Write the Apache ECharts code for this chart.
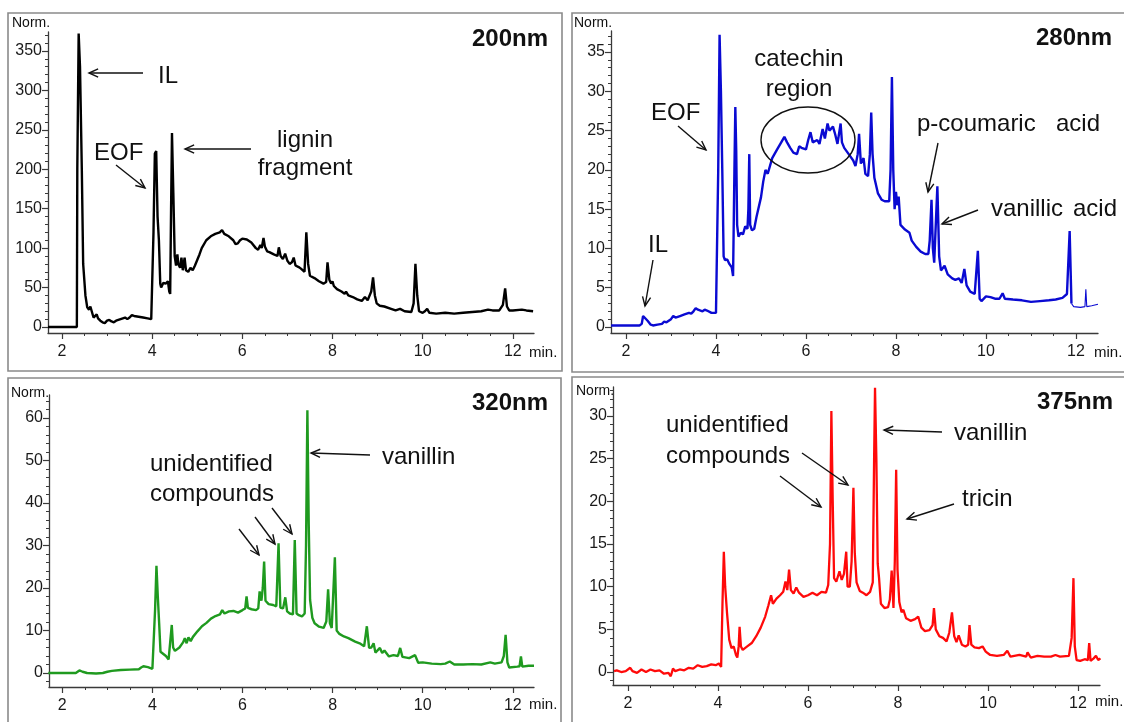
<!DOCTYPE html>
<html><head><meta charset="utf-8">
<script src="https://cdn.jsdelivr.net/npm/echarts@6/dist/echarts.min.js"></script>
<style>html,body{margin:0;padding:0;background:#fff}#c{width:1124px;height:722px}</style>
</head><body><div id="c"></div>
<script>
// ---- data: [time (min), absorbance (Norm.)] ----
const T200 = [[1.69,0],[2.33,0],[2.34,200],[2.37,372],[2.40,330],[2.44,200],[2.47,80],[2.52,40],[2.56,25],[2.6,22],[2.63,26],[2.66,20],[2.7,12],[2.74,10],[2.77,16],[2.8,11],[2.85,8],[2.9,6],[2.95,5],[3.0,8],[3.05,9],[3.1,7],[3.15,6],[3.2,8],[3.3,10],[3.4,12],[3.45,10],[3.5,12],[3.55,15],[3.6,14],[3.7,13],[3.8,12],[3.9,11],[3.98,10],[4.01,11],[4.03,120],[4.06,220],[4.09,223],[4.12,140],[4.15,110],[4.18,55],[4.2,50],[4.25,56],[4.3,55],[4.35,58],[4.38,45],[4.4,42],[4.42,150],[4.44,246],[4.47,170],[4.5,90],[4.53,78],[4.56,92],[4.58,80],[4.62,75],[4.65,88],[4.68,72],[4.72,88],[4.75,72],[4.8,70],[4.85,75],[4.9,72],[4.95,78],[5.0,85],[5.05,92],[5.1,100],[5.2,110],[5.3,115],[5.4,118],[5.5,120],[5.55,123],[5.6,118],[5.7,115],[5.8,110],[5.85,105],[5.9,106],[5.95,110],[6.0,112],[6.1,111],[6.2,107],[6.3,100],[6.35,98],[6.4,104],[6.43,100],[6.47,113],[6.5,102],[6.55,96],[6.6,95],[6.7,92],[6.78,90],[6.81,101],[6.85,90],[6.9,86],[6.95,93],[7.0,84],[7.05,80],[7.1,82],[7.14,88],[7.18,78],[7.25,76],[7.3,74],[7.38,70],[7.42,120],[7.46,80],[7.5,65],[7.6,62],[7.7,58],[7.8,55],[7.86,57],[7.89,82],[7.93,60],[7.97,55],[8.0,58],[8.03,52],[8.1,48],[8.2,45],[8.27,42],[8.3,45],[8.35,40],[8.45,38],[8.55,35],[8.65,33],[8.72,38],[8.78,34],[8.82,33],[8.86,45],[8.9,63],[8.94,40],[8.98,30],[9.05,27],[9.15,26],[9.3,23],[9.4,21],[9.5,23],[9.6,20],[9.75,19],[9.8,30],[9.84,80],[9.88,40],[9.92,20],[10.0,18],[10.05,20],[10.1,23],[10.15,18],[10.3,17],[10.5,18],[10.7,17],[10.9,18],[11.1,19],[11.3,20],[11.45,22],[11.55,21],[11.7,21],[11.78,28],[11.83,49],[11.87,26],[11.92,21],[12.0,21],[12.2,22],[12.3,21],[12.45,20]];

const T280 = [[1.67,0.2],[2.0,0.2],[2.3,0.2],[2.35,0.4],[2.38,1.4],[2.42,1.2],[2.48,0.8],[2.55,0.3],[2.6,0.2],[2.7,0.3],[2.8,0.4],[2.85,0.7],[2.9,0.6],[3.0,1.0],[3.05,1.4],[3.1,1.2],[3.2,1.4],[3.3,1.6],[3.4,1.8],[3.45,1.7],[3.5,2.0],[3.55,2.4],[3.6,2.2],[3.7,2.0],[3.75,2.2],[3.8,2.1],[3.9,1.8],[4.0,1.8],[4.03,2.0],[4.05,20],[4.08,37.2],[4.11,30],[4.14,20],[4.17,9],[4.2,8.5],[4.25,8.6],[4.3,8.0],[4.35,7.6],[4.38,6.5],[4.41,20],[4.43,28],[4.45,22.5],[4.47,13],[4.5,11.5],[4.55,12],[4.6,11.8],[4.65,12.8],[4.7,12.5],[4.72,15],[4.74,22],[4.76,13],[4.8,12.3],[4.85,12.5],[4.9,14],[5.0,16.5],[5.05,18.5],[5.1,20],[5.15,19.5],[5.25,21.5],[5.35,22.5],[5.45,23.5],[5.52,24.2],[5.58,23.5],[5.65,22.8],[5.72,22.2],[5.8,22],[5.85,23],[5.9,22.8],[6.0,22.6],[6.05,23.8],[6.1,24.8],[6.15,23.5],[6.25,23.8],[6.3,23.3],[6.37,25.2],[6.42,24],[6.48,25.9],[6.52,25],[6.6,25.5],[6.65,24.5],[6.7,23.3],[6.77,25.9],[6.8,23.5],[6.85,22.8],[6.95,22],[7.05,21.2],[7.1,20.5],[7.15,22],[7.18,24.6],[7.22,20.8],[7.28,21.5],[7.32,19.5],[7.38,19.2],[7.42,22],[7.45,27.3],[7.48,22],[7.52,19],[7.6,17],[7.68,16.2],[7.75,16],[7.85,16],[7.88,20],[7.91,31.8],[7.94,20],[7.97,15],[8.0,17.2],[8.03,15.5],[8.06,16.6],[8.1,13],[8.2,12.4],[8.3,12],[8.35,11],[8.45,10.2],[8.55,9.6],[8.65,9.3],[8.72,9.3],[8.75,11],[8.79,16.2],[8.82,10],[8.85,8.2],[8.88,8.3],[8.92,17.9],[8.96,9],[9.0,7.2],[9.08,7.8],[9.15,6.7],[9.25,6.2],[9.32,6.0],[9.4,6.2],[9.46,5.6],[9.52,7.4],[9.57,5.3],[9.65,4.5],[9.75,4.2],[9.79,4.4],[9.82,9.7],[9.86,3.6],[9.9,3.3],[10.0,3.9],[10.1,3.8],[10.2,3.6],[10.3,3.6],[10.37,4.3],[10.42,3.6],[10.6,3.5],[10.8,3.4],[11.0,3.2],[11.2,3.3],[11.4,3.4],[11.55,3.5],[11.7,3.7],[11.8,4.2],[11.86,12.2],[11.9,3.0]];
// thin tail of the 280 nm trace (drawn with a finer line in the original)
const T280_TAIL = [[11.9,3.0],[11.95,2.6],[12.1,2.5],[12.2,2.6],[12.22,4.8],[12.24,2.6],[12.35,2.7],[12.49,2.9]];

const T320 = [[1.69,0],[2.0,0],[2.3,0],[2.38,0.6],[2.45,0.3],[2.55,0],[2.75,-0.1],[2.9,0],[3.0,0.3],[3.1,0.5],[3.3,0.7],[3.5,0.8],[3.7,0.9],[3.75,1.3],[3.8,1.6],[3.9,1.4],[4.0,1.0],[4.03,1.1],[4.06,15],[4.09,25.2],[4.12,18],[4.15,11.7],[4.18,5],[4.22,4.6],[4.3,4.0],[4.36,3.2],[4.4,3.1],[4.43,11.3],[4.46,6],[4.5,5.2],[4.6,6],[4.68,7.2],[4.72,8.2],[4.76,7],[4.8,8.4],[4.85,7.5],[4.9,8.5],[5.0,9.8],[5.1,11],[5.2,11.8],[5.3,12.8],[5.4,13.4],[5.5,13.8],[5.55,14.8],[5.6,14],[5.7,14.5],[5.8,14.6],[5.9,14.2],[6.0,14.8],[6.06,15.2],[6.09,18],[6.12,15.3],[6.2,15],[6.3,14.8],[6.35,15.2],[6.38,19.2],[6.42,17],[6.45,20],[6.48,26.2],[6.51,17],[6.58,16.2],[6.68,16],[6.75,15.7],[6.8,30.5],[6.84,15.4],[6.9,15.2],[6.95,17.8],[6.99,14.5],[7.05,14],[7.12,13.8],[7.16,31.3],[7.2,14],[7.25,13.6],[7.32,13.3],[7.38,14],[7.41,30],[7.44,61.8],[7.47,35],[7.5,17.2],[7.55,13],[7.6,11.7],[7.7,10.9],[7.8,10.6],[7.86,12.1],[7.9,19.7],[7.94,11.7],[7.98,10.6],[8.05,27.2],[8.09,10],[8.15,9.2],[8.25,8.6],[8.35,8.2],[8.5,7.4],[8.6,7],[8.7,6.3],[8.76,11],[8.81,5.9],[8.86,6],[8.91,7.0],[8.95,4.8],[9.05,5.9],[9.1,4.7],[9.15,5.3],[9.25,3.9],[9.35,4.2],[9.45,4.0],[9.5,5.9],[9.55,3.8],[9.7,3.5],[9.83,4.2],[9.9,2.4],[10.0,2.5],[10.2,2.2],[10.4,2.1],[10.5,2.2],[10.6,2.7],[10.7,2.0],[10.9,2.0],[11.1,2.1],[11.3,2.0],[11.5,2.5],[11.6,2.2],[11.75,2.5],[11.8,4],[11.84,9.0],[11.88,2.5],[11.92,1.3],[12.1,1.5],[12.15,1.6],[12.18,3.9],[12.21,1.5],[12.35,1.7],[12.47,1.7]];

const T375 = [[1.69,0.1],[1.75,0.2],[1.85,0],[1.95,0.1],[2.05,0.5],[2.1,0.1],[2.2,-0.1],[2.3,0.3],[2.4,0],[2.5,0.3],[2.6,0.1],[2.7,0.2],[2.8,-0.2],[2.9,-0.1],[2.95,-0.5],[3.0,0.4],[3.05,0.1],[3.15,0.3],[3.25,0.2],[3.35,0.5],[3.45,0.4],[3.55,0.8],[3.65,0.6],[3.75,0.7],[3.85,0.9],[3.95,0.8],[4.02,1.0],[4.07,0.6],[4.1,8],[4.13,14.1],[4.16,10],[4.2,7],[4.25,3.8],[4.3,2.8],[4.35,3.0],[4.4,2.0],[4.43,1.7],[4.46,3],[4.48,5.3],[4.51,3],[4.55,2.6],[4.65,3.0],[4.75,3.4],[4.85,4.2],[4.95,5.2],[5.05,6.5],[5.12,7.8],[5.18,9],[5.22,8],[5.3,8.6],[5.38,9],[5.45,9.4],[5.5,10.6],[5.54,9.6],[5.58,12],[5.62,9.6],[5.68,9.2],[5.74,9.9],[5.8,9.3],[5.9,8.8],[6.0,9.0],[6.1,9.3],[6.2,9.0],[6.3,9.4],[6.4,9.3],[6.45,10.2],[6.49,15],[6.52,30.6],[6.55,20],[6.58,11],[6.63,10.6],[6.7,11.8],[6.75,10.8],[6.8,11.5],[6.85,14.1],[6.88,10],[6.93,10],[6.97,13],[7.01,21.6],[7.04,14],[7.08,10.5],[7.15,9.5],[7.22,9.3],[7.3,9.0],[7.38,9.4],[7.44,10.5],[7.47,25],[7.49,33.3],[7.52,25],[7.55,12.7],[7.58,11],[7.62,8],[7.7,7.5],[7.78,7.6],[7.82,8.5],[7.86,11.9],[7.9,7.5],[7.93,13],[7.96,23.7],[7.99,12],[8.03,8.2],[8.08,7],[8.12,7.3],[8.18,6.3],[8.28,6],[8.38,6.2],[8.45,6.5],[8.52,5.2],[8.6,4.8],[8.7,4.9],[8.77,5.5],[8.8,7.5],[8.84,5.0],[8.92,4.2],[9.0,4.0],[9.08,3.6],[9.14,4.6],[9.2,7.0],[9.25,4.2],[9.3,3.5],[9.35,4.3],[9.42,3.2],[9.5,3.0],[9.56,3.2],[9.59,5.5],[9.63,3.2],[9.7,2.9],[9.8,2.8],[9.88,3.0],[9.95,2.4],[10.05,2.0],[10.2,1.9],[10.35,2.0],[10.43,2.5],[10.5,1.8],[10.7,2.0],[10.85,1.8],[10.88,2.3],[10.95,1.7],[11.1,1.9],[11.25,1.8],[11.4,1.8],[11.5,2.0],[11.6,1.8],[11.8,1.9],[11.86,4],[11.9,11.0],[11.93,3],[11.97,1.4],[12.05,1.3],[12.15,1.5],[12.22,1.4],[12.25,3.4],[12.28,1.3],[12.35,1.6],[12.4,1.9],[12.45,1.4],[12.5,1.6]];

// ---- tick labels ----
const X_TICKS = [2,4,6,8,10,12];
const X_MINOR = [2,2.5,3,3.5,4,4.5,5,5.5,6,6.5,7,7.5,8,8.5,9,9.5,10,10.5,11,11.5,12];
const Y200_TICKS = [0,50,100,150,200,250,300,350];
const Y280_TICKS = [0,5,10,15,20,25,30,35];
const Y320_TICKS = [0,10,20,30,40,50,60];
const Y375_TICKS = [0,5,10,15,20,25,30];

function range(a, b, s) { const r = []; for (let v = a; v <= b + 1e-9; v += s) r.push(+v.toFixed(3)); return r; }

const FONT = '"Liberation Sans", Arial, sans-serif';
const AX = '#3a3a3a';

const panels = [
  { data: [T200], widths: [2.4], color: '#000000', grid: { left: 48, top: 32, width: 486, height: 301 }, x: [1.69, 12.47], y: [-7.6, 374], yt: Y200_TICKS, ym: range(0, 370, 10) },
  { data: [T280, T280_TAIL], widths: [2.4, 1.1], color: '#0a0ad2', grid: { left: 611, top: 31, width: 487, height: 302 }, x: [1.667, 12.49], y: [-0.76, 37.67], yt: Y280_TICKS, ym: range(0, 37, 1) },
  { data: [T320], widths: [2.4], color: '#1f9a1f', grid: { left: 49, top: 395, width: 485, height: 292 }, x: [1.705, 12.47], y: [-3.29, 65.4], yt: Y320_TICKS, ym: range(-2, 64, 2) },
  { data: [T375], widths: [2.3], color: '#ff0a0a', grid: { left: 613, top: 387, width: 487, height: 298 }, x: [1.667, 12.49], y: [-1.52, 33.4], yt: Y375_TICKS, ym: range(-1, 33, 1) }
];

const grid = [], xAxis = [], yAxis = [], series = [];
panels.forEach((p, i) => {
  grid.push(Object.assign({ containLabel: false }, p.grid));
  xAxis.push({ gridIndex: i, type: 'value', position: 'bottom', min: p.x[0], max: p.x[1],
    axisLine: { show: true, onZero: false, lineStyle: { color: AX, width: 1.3 } },
    splitLine: { show: false },
    axisTick: { show: true, customValues: X_TICKS, length: 6, lineStyle: { color: AX, width: 1.2 } },
    axisLabel: { show: true, customValues: X_TICKS, fontSize: 16, color: '#1a1a1a', margin: 11, fontFamily: FONT } });
  xAxis.push({ gridIndex: i, type: 'value', position: 'bottom', min: p.x[0], max: p.x[1],
    axisLine: { show: false, onZero: false }, splitLine: { show: false },
    axisTick: { show: true, customValues: X_MINOR, length: 3, lineStyle: { color: AX, width: 1 } },
    axisLabel: { show: false } });
  yAxis.push({ gridIndex: i, type: 'value', position: 'left', min: p.y[0], max: p.y[1],
    axisLine: { show: true, onZero: false, lineStyle: { color: AX, width: 1.3 } },
    splitLine: { show: false },
    axisTick: { show: true, customValues: p.yt, length: 6, lineStyle: { color: AX, width: 1.2 } },
    axisLabel: { show: true, customValues: p.yt, fontSize: 16, color: '#1a1a1a', margin: 6, fontFamily: FONT } });
  yAxis.push({ gridIndex: i, type: 'value', position: 'left', min: p.y[0], max: p.y[1],
    axisLine: { show: false, onZero: false }, splitLine: { show: false },
    axisTick: { show: true, customValues: p.ym, length: 3, lineStyle: { color: AX, width: 1 } },
    axisLabel: { show: false } });
  p.data.forEach((d, k) => {
    series.push({ type: 'line', xAxisIndex: 2 * i, yAxisIndex: 2 * i, data: d, showSymbol: false, symbol: 'none',
      lineStyle: { color: p.color, width: p.widths[k] }, animation: false, z: 3 });
  });
});

// ---- annotation helpers ----
function txt(x, y, text, size, bold, align) {
  return { type: 'text', x: x, y: y, z: 10, style: { text: text, fill: '#111', font: (bold ? 'bold ' : '') + size + 'px ' + FONT, textAlign: align || 'left', textVerticalAlign: 'middle' } };
}
function arrow(x1, y1, x2, y2) {
  const a = Math.atan2(y2 - y1, x2 - x1), L = 10, w = 0.42;
  const h1 = [x2 - L * Math.cos(a - w), y2 - L * Math.sin(a - w)];
  const h2 = [x2 - L * Math.cos(a + w), y2 - L * Math.sin(a + w)];
  const st = { stroke: '#111', lineWidth: 1.4, fill: null };
  return [
    { type: 'line', z: 10, shape: { x1: x1, y1: y1, x2: x2, y2: y2 }, style: st },
    { type: 'polyline', z: 10, shape: { points: [h1, [x2, y2], h2] }, style: st }
  ];
}
function rect(x, y, w, h) {
  return { type: 'rect', z: 0, shape: { x: x, y: y, width: w, height: h }, style: { fill: null, stroke: '#8a8a8a', lineWidth: 1.6 } };
}

const graphic = [
  rect(8, 13, 554, 358), rect(572, 13, 560, 359), rect(8, 378, 553, 352), rect(572, 377, 560, 353),
  // panel 1
  txt(12, 23, 'Norm.', 14), txt(548, 39, '200nm', 24, true, 'right'), txt(529, 353, 'min.', 15),
  txt(158, 76, 'IL', 24), ...arrow(143, 73, 89, 73),
  txt(94, 153, 'EOF', 24), ...arrow(116, 165, 145, 188),
  txt(305, 140, 'lignin', 24, false, 'center'), txt(305, 168, 'fragment', 24, false, 'center'), ...arrow(251, 149, 185, 149),
  // panel 2
  txt(574, 23, 'Norm.', 14), txt(1112, 38, '280nm', 24, true, 'right'), txt(1094, 353, 'min.', 15),
  txt(651, 113, 'EOF', 24), ...arrow(678, 126, 706, 150),
  txt(648, 245, 'IL', 24), ...arrow(653, 260, 645, 306),
  txt(799, 59, 'catechin', 24, false, 'center'), txt(799, 89, 'region', 24, false, 'center'),
  { type: 'ellipse', z: 10, shape: { cx: 808, cy: 140, rx: 47, ry: 33 }, style: { fill: null, stroke: '#111', lineWidth: 1.4 } },
  txt(917, 124, 'p-coumaric', 24), txt(1056, 124, 'acid', 24), ...arrow(938, 143, 928, 192),
  txt(991, 209, 'vanillic', 24), txt(1073, 209, 'acid', 24), ...arrow(978, 210, 942, 224),
  // panel 3
  txt(11, 393, 'Norm.', 14), txt(548, 403, '320nm', 24, true, 'right'), txt(529, 705, 'min.', 15),
  txt(150, 464, 'unidentified', 24), txt(150, 494, 'compounds', 24),
  ...arrow(239, 529, 259, 555), ...arrow(255, 517, 275, 544), ...arrow(272, 508, 292, 534),
  txt(382, 457, 'vanillin', 24), ...arrow(370, 455, 311, 453),
  // panel 4
  txt(576, 391, 'Norm.', 14), txt(1113, 402, '375nm', 24, true, 'right'), txt(1095, 702, 'min.', 15),
  txt(666, 425, 'unidentified', 24), txt(666, 456, 'compounds', 24),
  ...arrow(780, 476, 821, 507), ...arrow(802, 453, 848, 485),
  txt(954, 433, 'vanillin', 24), ...arrow(942, 432, 884, 430),
  txt(962, 499, 'tricin', 24), ...arrow(954, 504, 907, 519)
];

const chart = echarts.init(document.getElementById('c'), null, { renderer: 'canvas' });
chart.setOption({ animation: false, backgroundColor: '#fff', grid, xAxis, yAxis, series, graphic });
</script>
</body></html>
